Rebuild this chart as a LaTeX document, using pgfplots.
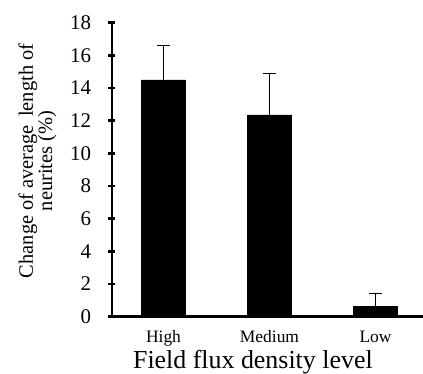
\documentclass[border=0pt]{standalone}
\usepackage{pgfplots}
\pgfplotsset{compat=1.18}
\usepackage{fontspec}
\setmainfont{Liberation Serif}
\begin{document}
\begin{tikzpicture}
\begin{axis}[
  at={(0,0)}, anchor=south west,
  scale only axis,
  width=311bp, height=294bp,
  xmin=-0.486, xmax=2.448,
  ymin=0, ymax=18,
  axis lines=left,
  axis line style={-, line width=2.5bp},
  every tick/.style={black, line width=2.5bp},
  ytick={0,2,...,18},
  major tick length=7bp,
  xtick={0,1,2},
  xticklabels={High,Medium,Low},
  x tick style={draw=none},
  minor xtick={0.5,1.5},
  minor tick length=5bp,
  minor x tick style={black, line width=2bp},
  /pgf/number format/assume math mode=true,
  yticklabel style={font=\fontsize{21}{24}\selectfont, anchor=east, xshift=-14bp},
  xticklabel style={font=\fontsize{17.5}{20}\selectfont, anchor=base, inner sep=0pt, yshift=-22.5bp},
  xlabel={Field flux density level},
  xlabel style={font=\fontsize{26}{30}\selectfont, at={(axis description cs:0.453,0)}, anchor=base, inner sep=0pt, yshift=-51.5bp},
  ylabel={Change of average\hspace{0.15em} length of\\neurites (\%)},
  ylabel style={font=\fontsize{20.5}{19.5}\selectfont, align=center, at={(axis description cs:-0.2395,0.53)}, anchor=center},
  clip=false,
]
\addplot[ybar, bar width=0.415, fill=black, draw=black,
  error bars/.cd, y dir=plus, y explicit,
  error bar style={line width=1.2bp, black},
  error mark options={rotate=90, mark size=6.5bp, line width=1.2bp, black}]
  coordinates {(0,14.5) +- (0,2.1) (1,12.35) +- (0,2.55) (2,0.65) +- (0,0.75)};
\end{axis}
\pgfresetboundingbox
\path[use as bounding box] (-112bp,-57.3bp) rectangle (311bp,316.7bp);
\end{tikzpicture}
\end{document}
